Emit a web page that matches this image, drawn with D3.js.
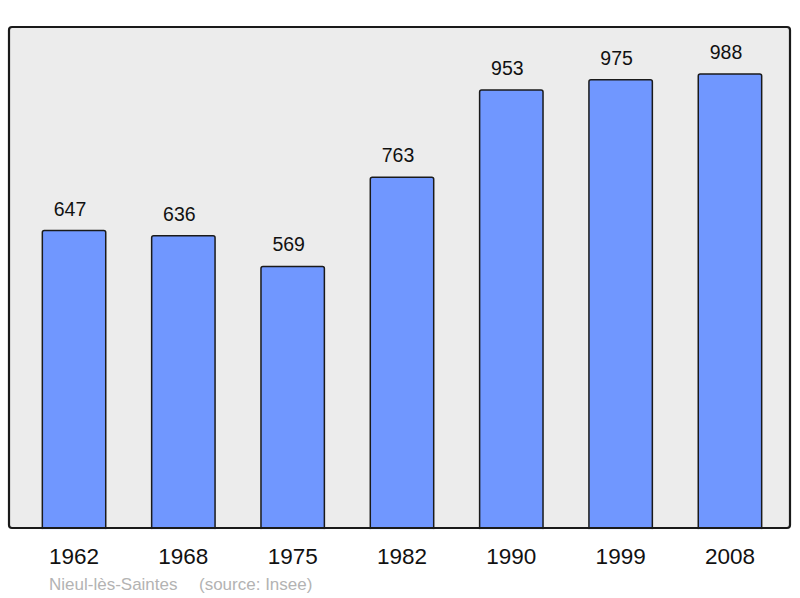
<!DOCTYPE html>
<html>
<head>
<meta charset="utf-8">
<script src="https://cdn.jsdelivr.net/npm/d3@7"></script>
<style>
  body { margin: 0; background: #fff; }
  text { font-family: "Liberation Sans", Arial, sans-serif; }
</style>
</head>
<body>
<svg width="800" height="598"></svg>
<script>
// population data
var years = ["1962", "1968", "1975", "1982", "1990", "1999", "2008"];
var population = [647, 636, 569, 763, 953, 975, 988];
var commune = "Nieul-lès-Saintes";
var source = "(source: Insee)";

var svg = d3.select("svg"),
    frame = {left: 9, top: 27, right: 790, bottom: 528};

// frame background
svg.append("rect")
    .attr("x", frame.left)
    .attr("y", frame.top)
    .attr("width", frame.right - frame.left)
    .attr("height", frame.bottom - frame.top)
    .attr("rx", 3)
    .attr("fill", "#ececec");

var x = d3.scaleBand()
    .domain(years)
    .range([frame.left + 6, frame.right - 1])
    .paddingInner(0.42)
    .paddingOuter(0.25);

var y = d3.scaleLinear()
    .domain([0, 1090])
    .range([frame.bottom, frame.top]);

var bars = svg.selectAll(".bar")
    .data(population)
    .enter().append("g")
    .attr("class", "bar");

bars.append("rect")
    .attr("x", function(d, i) { return x(years[i]); })
    .attr("y", function(d) { return y(d); })
    .attr("width", x.bandwidth())
    .attr("height", function(d) { return y(0) - y(d) + 4; })
    .attr("rx", 2)
    .attr("fill", "#7097ff")
    .attr("stroke", "#1a1a1a")
    .attr("stroke-width", 1.5);

// value labels sit a little left of bar centre
bars.append("text")
    .attr("x", function(d, i) { return x(years[i]) + x.bandwidth() / 2 - 4; })
    .attr("y", function(d) { return y(d) - 15; })
    .attr("text-anchor", "middle")
    .style("font-size", "19.5px")
    .attr("fill", "#111")
    .text(function(d) { return d; });

// frame border drawn over bar bottoms
svg.append("rect")
    .attr("x", frame.left)
    .attr("y", frame.top)
    .attr("width", frame.right - frame.left)
    .attr("height", frame.bottom - frame.top)
    .attr("rx", 3)
    .attr("fill", "none")
    .attr("stroke", "#1a1a1a")
    .attr("stroke-width", 2.2);

// cover bar overflow below frame
svg.append("rect")
    .attr("x", 0)
    .attr("y", frame.bottom + 1.1)
    .attr("width", 800)
    .attr("height", 10)
    .attr("fill", "#fff");

// year axis
var xAxis = svg.append("g")
    .attr("transform", "translate(0," + frame.bottom + ")")
    .call(d3.axisBottom(x).tickSize(0).tickPadding(20));
xAxis.select(".domain").remove();
xAxis.selectAll("text")
    .style("font-family", "'Liberation Sans', Arial, sans-serif")
    .style("font-size", "22.5px")
    .attr("fill", "#111");

svg.append("text")
    .attr("x", 49)
    .attr("y", 590)
    .style("font-size", "17px")
    .attr("fill", "#b3b3b3")
    .text(commune);

svg.append("text")
    .attr("x", 199)
    .attr("y", 590)
    .style("font-size", "17px")
    .attr("fill", "#b3b3b3")
    .text(source);
</script>
</body>
</html>
